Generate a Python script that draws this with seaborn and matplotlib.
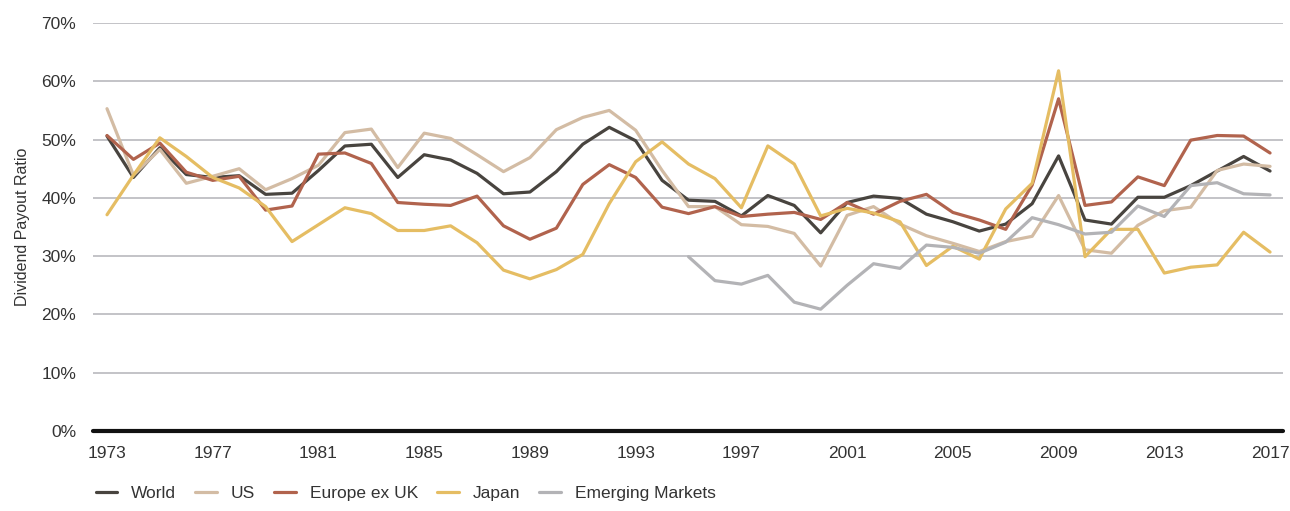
import numpy as np
import pandas as pd
import matplotlib
matplotlib.use("Agg")
import matplotlib.pyplot as plt
import seaborn as sns
from matplotlib.ticker import FuncFormatter

# ---- data ----
years = list(range(1973, 2018))

world = [50.6, 43.5, 48.6, 44.0, 43.5, 43.8, 40.6, 40.8, 44.7, 48.9,
         49.2, 43.5, 47.4, 46.5, 44.2, 40.7, 41.0, 44.5, 49.2, 52.1,
         49.8, 43.0, 39.6, 39.4, 36.9, 40.4, 38.7, 34.0, 39.2, 40.3,
         39.9, 37.2, 35.9, 34.3, 35.5, 39.0, 47.2, 36.2, 35.5, 40.1,
         40.1, 42.1, 44.6, 47.1, 44.6]

us = [55.3, 43.9, 48.3, 42.5, 43.7, 45.0, 41.4, 43.3, 45.6, 51.2,
      51.8, 45.2, 51.1, 50.2, 47.4, 44.5, 46.9, 51.7, 53.8, 55.0,
      51.6, 44.7, 38.5, 38.5, 35.4, 35.1, 33.9, 28.3, 37.0, 38.5,
      35.5, 33.5, 32.2, 30.8, 32.5, 33.4, 40.4, 31.1, 30.5, 35.3,
      37.8, 38.4, 44.7, 45.8, 45.4]

europe_ex_uk = [50.7, 46.6, 49.4, 44.4, 43.0, 43.7, 37.9, 38.6, 47.5, 47.7,
                45.9, 39.2, 38.9, 38.7, 40.3, 35.2, 32.9, 34.8, 42.3, 45.7,
                43.5, 38.4, 37.3, 38.5, 36.8, 37.2, 37.5, 36.3, 39.2, 37.2,
                39.4, 40.6, 37.5, 36.2, 34.6, 42.2, 57.0, 38.7, 39.3, 43.6,
                42.1, 49.9, 50.7, 50.6, 47.7]

japan = [37.1, 43.9, 50.3, 47.1, 43.5, 41.7, 38.5, 32.5, 35.4, 38.3,
         37.3, 34.4, 34.4, 35.2, 32.3, 27.6, 26.1, 27.7, 30.3, 39.0,
         46.2, 49.6, 45.8, 43.3, 38.3, 48.9, 45.8, 36.9, 38.2, 37.4,
         35.9, 28.4, 31.7, 29.5, 38.1, 42.5, 61.8, 29.9, 34.6, 34.6,
         27.1, 28.1, 28.5, 34.1, 30.7]

emerging = [np.nan] * 22 + [
    29.9, 25.8, 25.2, 26.7, 22.1, 20.9, 25.0, 28.7,
    27.9, 31.9, 31.5, 30.5, 32.4, 36.6, 35.4, 33.8, 34.1, 38.6,
    36.8, 42.1, 42.6, 40.7, 40.5]

series_names = ["World", "US", "Europe ex UK", "Japan", "Emerging Markets"]
colors = ["#48443f", "#d3bca4", "#b1634d", "#e5bd63", "#b3b3b6"]

df = pd.DataFrame({
    "Year": years,
    "World": world,
    "US": us,
    "Europe ex UK": europe_ex_uk,
    "Japan": japan,
    "Emerging Markets": emerging,
}).melt(id_vars="Year", var_name="Series", value_name="Ratio")

# ---- style ----
sns.set_theme(style="white")
plt.rcParams["font.family"] = ["Liberation Sans Narrow", "Liberation Sans", "DejaVu Sans"]
TEXT = "#333333"

fig = plt.figure(figsize=(12.9, 5.11), dpi=100)
ax = fig.add_axes([93 / 1290, 1 - 431 / 511, 1190 / 1290, 408 / 511])

# horizontal gridlines
for v in range(10, 80, 10):
    ax.axhline(v, color="#b9b9bd", linewidth=1.2, zorder=0)

sns.lineplot(
    data=df, x="Year", y="Ratio", hue="Series",
    hue_order=series_names, palette=colors,
    linewidth=2.3, ax=ax, legend=True,
)

ax.axhline(0, color="#111111", linewidth=3, zorder=5, clip_on=False)

ax.set_xlim(1972.47, 2017.49)
ax.set_ylim(0, 70)
ax.set_xticks(range(1973, 2018, 4))
ax.set_yticks(range(0, 80, 10))
ax.yaxis.set_major_formatter(FuncFormatter(lambda v, _: f"{int(v)}%"))
ax.tick_params(axis="both", length=0, labelsize=12.5, colors=TEXT)
ax.tick_params(axis="x", pad=11)
ax.tick_params(axis="y", pad=12)

ax.set_xlabel("")
ax.set_ylabel("Dividend Payout Ratio", fontsize=11.5, color=TEXT, labelpad=8)

for s in ax.spines.values():
    s.set_visible(False)

handles, labels = ax.get_legend_handles_labels()
ax.legend(
    handles, labels,
    loc="lower left", bbox_to_anchor=(80 / 1290, -6 / 511),
    bbox_transform=fig.transFigure,
    ncol=5, frameon=False, fontsize=12.5, handlelength=1.25,
    columnspacing=1.1, handletextpad=0.8, labelcolor=TEXT,
)

fig.savefig("out.png", dpi=100)
